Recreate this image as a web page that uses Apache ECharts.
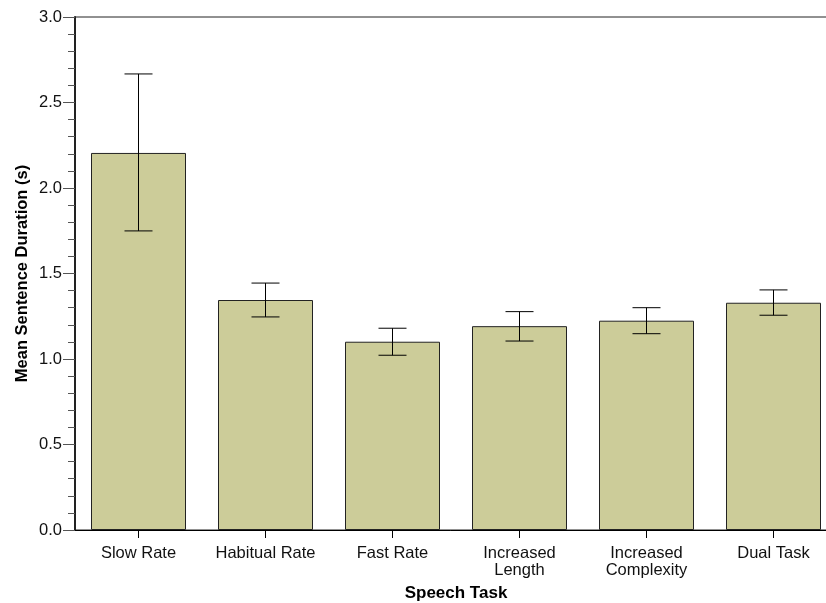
<!DOCTYPE html>
<html><head><meta charset="utf-8">
<script src="https://cdn.jsdelivr.net/npm/echarts@6/dist/echarts.min.js"></script>
<style>html,body{margin:0;padding:0;background:#fff}#c{width:826px;height:603px}</style>
</head><body><div id="c"></div>
<script>
var categories = ['Slow Rate', 'Habitual Rate', 'Fast Rate', 'Increased\nLength', 'Increased\nComplexity', 'Dual Task'];
var means = [2.205, 1.345, 1.101, 1.192, 1.224, 1.329];
var errLow = [1.749, 1.246, 1.022, 1.105, 1.148, 1.256];
var errHigh = [2.667, 1.444, 1.180, 1.277, 1.300, 1.404];
var yTicks = [0.0, 0.5, 1.0, 1.5, 2.0, 2.5, 3.0];

var chart = echarts.init(document.getElementById('c'));
var errData = categories.map(function (c, i) { return [i, errLow[i], errHigh[i]]; });
var font = 'Liberation Sans, Arial, sans-serif';
chart.setOption({
  animation: false,
  grid: { left: 75, top: 17, width: 762, height: 513, outerBoundsMode: 'none', containLabel: false,
    show: true, borderColor: '#222', borderWidth: 1, backgroundColor: 'transparent' },
  xAxis: {
    type: 'category', data: categories,
    name: 'Speech Task', nameLocation: 'middle', nameGap: 55,
    nameTextStyle: { fontFamily: font, fontSize: 17, fontWeight: 'bold', color: '#000' },
    axisLine: { show: true, lineStyle: { color: '#000', width: 1 } },
    axisTick: { show: true, alignWithLabel: true, interval: 0, length: 8, lineStyle: { color: '#000', width: 1 } },
    axisLabel: { show: true, interval: 0, hideOverlap: false, fontFamily: font, fontSize: 16.5, color: '#111', margin: 15, lineHeight: 17 }
  },
  yAxis: {
    type: 'value', min: 0, max: 3, interval: 0.5,
    name: 'Mean Sentence Duration (s)', nameLocation: 'middle', nameGap: 44, nameMoveOverlap: false,
    nameTextStyle: { fontFamily: font, fontSize: 16.5, fontWeight: 'bold', color: '#000' },
    axisLine: { show: true, lineStyle: { color: '#222', width: 2 } },
    axisTick: { show: true, length: 12, lineStyle: { color: '#555' } },
    minorTick: { show: true, splitNumber: 5, length: 7, lineStyle: { color: '#555' } },
    splitLine: { show: false },
    axisLabel: { fontFamily: font, fontSize: 16.5, color: '#111', margin: 13,
      formatter: function (v) { return v.toFixed(1); } }
  },
  series: [
    {
      type: 'bar', data: means, barWidth: 95,
      itemStyle: { color: '#cccc99', borderColor: '#222', borderWidth: 1 }
    },
    {
      type: 'custom', data: errData, z: 10,
      renderItem: function (params, api) {
        var x = api.value(0);
        var lo = api.coord([x, api.value(1)]);
        var hi = api.coord([x, api.value(2)]);
        var hw = 14;
        var st = { stroke: '#000', lineWidth: 1 };
        return { type: 'group', children: [
          { type: 'line', shape: { x1: hi[0], y1: hi[1], x2: lo[0], y2: lo[1] }, style: st },
          { type: 'line', shape: { x1: hi[0] - hw, y1: hi[1], x2: hi[0] + hw, y2: hi[1] }, style: st },
          { type: 'line', shape: { x1: lo[0] - hw, y1: lo[1], x2: lo[0] + hw, y2: lo[1] }, style: st }
        ] };
      }
    }
  ]
});
</script></body></html>
